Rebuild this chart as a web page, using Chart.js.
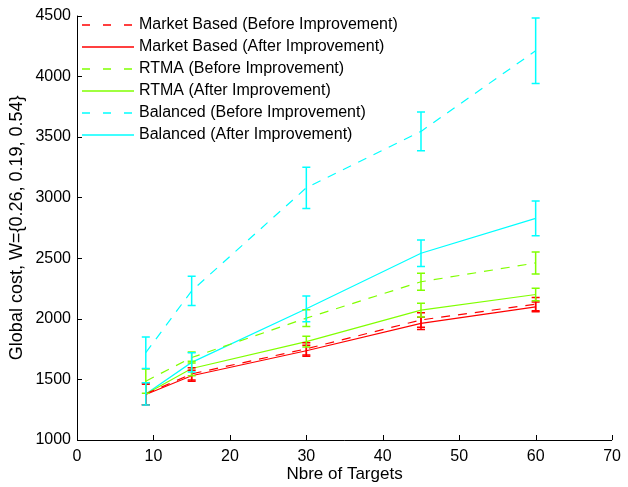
<!DOCTYPE html>
<html>
<head>
<meta charset="utf-8">
<script src="https://cdn.jsdelivr.net/npm/chart.js@4"></script>
<style>
  html, body { margin: 0; padding: 0; background: #fff; }
  #wrap { width: 628px; height: 487px; }
</style>
</head>
<body>
<div id="wrap"><canvas id="chart" width="628" height="487"></canvas></div>
<script>
'use strict';

// number of targets
var targets = [9, 15, 30, 45, 60];

var marketBefore = [1380, 1545, 1752, 1990, 2120];
var marketBeforeErr = [90, 50, 50, 60, 55];
var marketAfter = [1375, 1530, 1736, 1962, 2098];
var marketAfterErr = [85, 45, 45, 50, 40];

var rtmaBefore = [1485, 1680, 2005, 2305, 2460];
var rtmaBeforeErr = [100, 45, 70, 70, 90];
var rtmaAfter = [1380, 1590, 1811, 2071, 2200];
var rtmaAfterErr = [0, 60, 45, 56, 52];

var balancedBefore = [1720, 2230, 3080, 3545, 4210];
var balancedBeforeErr = [130, 120, 170, 160, 270];
var balancedAfter = [1380, 1640, 2082, 2540, 2828];
var balancedAfterErr = [92, 80, 106, 110, 144];

var xTicks = [0, 10, 20, 30, 40, 50, 60, 70];
var yTicks = [1000, 1500, 2000, 2500, 3000, 3500, 4000, 4500];

var RED = '#ff0000', GREEN = '#80ff00', CYAN = '#00ffff';
var FONT = '"Liberation Sans", Arial, Helvetica, sans-serif';

function series(label, values, errs, color, dashed) {
    return {
        label: label,
        data: targets.map(function(t, i) { return { x: t, y: values[i] }; }),
        errors: errs,
        lineColor: color,
        dashed: dashed,
        borderColor: color,
        backgroundColor: color,
        borderWidth: 1.2,
        borderDash: dashed ? [9, 8] : [],
        pointRadius: 0,
        tension: 0,
        fill: false
    };
}

var datasets = [
    series('Market Based (Before Improvement)', marketBefore, marketBeforeErr, RED, true),
    series('Market Based (After Improvement)', marketAfter, marketAfterErr, RED, false),
    series('RTMA (Before Improvement)', rtmaBefore, rtmaBeforeErr, GREEN, true),
    series('RTMA (After Improvement)', rtmaAfter, rtmaAfterErr, GREEN, false),
    series('Balanced (Before Improvement)', balancedBefore, balancedBeforeErr, CYAN, true),
    series('Balanced (After Improvement)', balancedAfter, balancedAfterErr, CYAN, false)
];

// error bars, inward ticks and the legend, matlab style
var matlabLook = {
    id: 'matlabLook',
    afterDatasetsDraw: function(chart) {
        var ctx = chart.ctx, xs = chart.scales.x, ys = chart.scales.y;
        ctx.save();
        ctx.lineWidth = 1.5;
        chart.data.datasets.forEach(function(ds) {
            ctx.strokeStyle = ds.lineColor;
            ds.data.forEach(function(p, i) {
                var e = ds.errors[i];
                if (!e) return;
                var px = xs.getPixelForValue(p.x);
                var top = ys.getPixelForValue(p.y + e);
                var bot = ys.getPixelForValue(p.y - e);
                ctx.beginPath();
                ctx.moveTo(px, top); ctx.lineTo(px, bot);
                ctx.moveTo(px - 4, top); ctx.lineTo(px + 4, top);
                ctx.moveTo(px - 4, bot); ctx.lineTo(px + 4, bot);
                ctx.stroke();
            });
        });
        ctx.restore();
    },
    afterDraw: function(chart) {
        var ctx = chart.ctx, xs = chart.scales.x, ys = chart.scales.y, a = chart.chartArea;
        ctx.save();
        ctx.strokeStyle = '#000';
        ctx.lineWidth = 1;
        ctx.beginPath();
        ctx.moveTo(a.left + 0.5, a.top);
        ctx.lineTo(a.left + 0.5, a.bottom + 0.5);
        ctx.lineTo(a.right, a.bottom + 0.5);
        xTicks.forEach(function(v) {
            var px = Math.round(xs.getPixelForValue(v)) + 0.5;
            ctx.moveTo(px, a.bottom);
            ctx.lineTo(px, a.bottom - 5);
        });
        yTicks.forEach(function(v) {
            var py = Math.round(ys.getPixelForValue(v)) + 0.5;
            ctx.moveTo(a.left, py);
            ctx.lineTo(a.left + 5, py);
        });
        ctx.stroke();
        ctx.restore();

        // legend
        chart.data.datasets.forEach(function(ds, i) {
            var y = 25 + i * 22;
            ctx.save();
            ctx.strokeStyle = ds.lineColor;
            ctx.lineWidth = 1.3;
            ctx.setLineDash(ds.dashed ? [8, 13] : []);
            ctx.beginPath();
            ctx.moveTo(82, y);
            ctx.lineTo(134, y);
            ctx.stroke();
            ctx.restore();
            ctx.save();
            ctx.font = '16px ' + FONT;
            ctx.textBaseline = 'middle';
            ctx.textAlign = 'left';
            ctx.fillStyle = '#000';
            ctx.fillText(ds.label, 139, y);
            ctx.restore();
        });
    }
};

new Chart(document.getElementById('chart'), {
    type: 'line',
    data: { datasets: datasets },
    options: {
        responsive: false,
        animation: false,
        layout: { padding: { top: 13, right: 9, left: 0, bottom: 0 } },
        plugins: {
            legend: { display: false },
            tooltip: { enabled: false }
        },
        scales: {
            x: {
                type: 'linear',
                min: 0,
                max: 70,
                afterFit: function(scale) { scale.height = 47; },
                afterBuildTicks: function(scale) {
                    scale.ticks = xTicks.map(function(v) { return { value: v }; });
                },
                grid: { display: false, drawTicks: false },
                border: { display: false },
                ticks: {
                    color: '#000', padding: 7, font: { family: FONT, size: 16 },
                    callback: function(v) { return String(v); }
                },
                title: {
                    display: true,
                    text: 'Nbre of Targets',
                    color: '#000',
                    padding: { top: 0, bottom: 2 },
                    font: { family: FONT, size: 17 }
                }
            },
            y: {
                type: 'linear',
                min: 1000,
                max: 4500,
                afterFit: function(scale) { scale.width = 77; },
                afterBuildTicks: function(scale) {
                    scale.ticks = yTicks.map(function(v) { return { value: v }; });
                },
                grid: { display: false, drawTicks: false },
                border: { display: false },
                ticks: {
                    color: '#000', padding: 6, font: { family: FONT, size: 16 },
                    callback: function(v) { return String(v); }
                },
                title: {
                    display: true,
                    text: 'Global cost, W={0.26, 0.19, 0.54}',
                    color: '#000',
                    padding: { top: 6, bottom: 0 },
                    font: { family: FONT, size: 18 }
                }
            }
        }
    },
    plugins: [matlabLook]
});
</script>
</body>
</html>
